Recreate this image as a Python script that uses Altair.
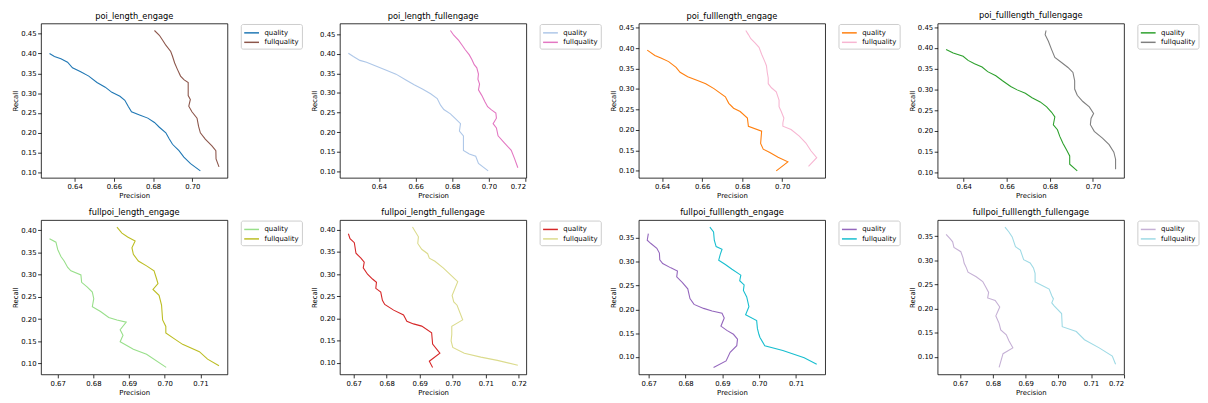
import altair as alt
import pandas as pd

FONT = "DejaVu Sans"
SERIES = ["quality", "fullquality"]

titles = [
    "poi_length_engage", "poi_length_fullengage", "poi_fulllength_engage", "poi_fulllength_fullengage",
    "fullpoi_length_engage", "fullpoi_length_fullengage", "fullpoi_fulllength_engage", "fullpoi_fulllength_fullengage",
]

colors = [
    ["#1f77b4", "#8c564b"], ["#aec7e8", "#e377c2"], ["#ff7f0e", "#f7b6d2"], ["#2ca02c", "#7f7f7f"],
    ["#98df8a", "#bcbd22"], ["#d62728", "#dbdb8d"], ["#9467bd", "#17becf"], ["#c5b0d5", "#9edae5"],
]

x_ticks_top = [0.64, 0.66, 0.68, 0.70]
x_ticks_top_wide = [0.64, 0.66, 0.68, 0.70, 0.72]
x_ticks_bottom = [0.67, 0.68, 0.69, 0.70, 0.71]
x_ticks_bottom_wide = [0.67, 0.68, 0.69, 0.70, 0.71, 0.72]
y_ticks_045 = [0.10, 0.15, 0.20, 0.25, 0.30, 0.35, 0.40, 0.45]
y_ticks_040 = [0.10, 0.15, 0.20, 0.25, 0.30, 0.35, 0.40]
y_ticks_035 = [0.10, 0.15, 0.20, 0.25, 0.30, 0.35]

# ---- panel 1: poi_length_engage
p1_q_prec = [0.6272, 0.6297, 0.6330, 0.6364, 0.6389, 0.6431, 0.6472, 0.6514, 0.6556, 0.6590, 0.6631, 0.6656, 0.6673,
             0.6690, 0.6731, 0.6773, 0.6807, 0.6832, 0.6865, 0.6882, 0.6899, 0.6932, 0.6957, 0.6991, 0.7041]
p1_q_rec = [0.400, 0.3926, 0.387, 0.378, 0.364, 0.354, 0.343, 0.327, 0.315, 0.302, 0.292, 0.282, 0.267,
            0.253, 0.245, 0.237, 0.226, 0.214, 0.200, 0.185, 0.171, 0.155, 0.1385, 0.122, 0.104]
p1_f_prec = [0.6807, 0.6832, 0.6848, 0.6865, 0.6890, 0.6899, 0.6910, 0.6924, 0.6940, 0.6957, 0.6979, 0.6979, 0.6990,
             0.6982, 0.6998, 0.7024, 0.7032, 0.7041, 0.7066, 0.7100, 0.7120, 0.7121, 0.7136]
p1_f_rec = [0.458, 0.446, 0.434, 0.421, 0.405, 0.393, 0.376, 0.360, 0.343, 0.334, 0.327, 0.294, 0.284,
            0.267, 0.253, 0.237, 0.216, 0.200, 0.184, 0.167, 0.155, 0.134, 0.114]

# ---- panel 2: poi_length_fullengage
p2_q_prec = [0.6233, 0.6260, 0.6296, 0.6332, 0.6386, 0.6440, 0.6493, 0.6547, 0.6592, 0.6637, 0.6682, 0.6718, 0.6736,
             0.6754, 0.6790, 0.6817, 0.6845, 0.6839, 0.6861, 0.6861, 0.6861, 0.6893, 0.6928, 0.6943, 0.6996]
p2_q_rec = [0.4013, 0.393, 0.383, 0.378, 0.368, 0.358, 0.348, 0.333, 0.321, 0.310, 0.298, 0.286, 0.269,
            0.258, 0.247, 0.235, 0.222, 0.203, 0.191, 0.174, 0.154, 0.145, 0.139, 0.121, 0.102]
p2_f_prec = [0.6790, 0.6808, 0.6835, 0.6853, 0.6871, 0.6893, 0.6907, 0.6920, 0.6934, 0.6943, 0.6940, 0.6949, 0.6943,
             0.6961, 0.6979, 0.6993, 0.7014, 0.7038, 0.7041, 0.7023, 0.7041, 0.7050, 0.7083, 0.7122, 0.7140, 0.7158]
p2_f_rec = [0.459, 0.447, 0.434, 0.422, 0.410, 0.397, 0.385, 0.372, 0.364, 0.348, 0.335, 0.323, 0.308,
            0.294, 0.277, 0.265, 0.257, 0.249, 0.236, 0.222, 0.211, 0.191, 0.174, 0.154, 0.133, 0.110]

# ---- panel 3: poi_fulllength_engage
p3_q_prec = [0.6326, 0.6364, 0.6397, 0.6433, 0.6470, 0.6490, 0.6528, 0.6577, 0.6618, 0.6659, 0.6716, 0.6733, 0.6757,
             0.6790, 0.6826, 0.6831, 0.6897, 0.6892, 0.6905, 0.6938, 0.6979, 0.7028, 0.6970]
p3_q_rec = [0.395, 0.382, 0.375, 0.367, 0.353, 0.341, 0.330, 0.321, 0.313, 0.301, 0.281, 0.265, 0.253,
            0.245, 0.229, 0.209, 0.197, 0.167, 0.153, 0.145, 0.133, 0.122, 0.100]
p3_f_prec = [0.6818, 0.6831, 0.6843, 0.6864, 0.6884, 0.6897, 0.6913, 0.6921, 0.6925, 0.6930, 0.6930, 0.6946, 0.6970,
             0.6984, 0.6984, 0.6995, 0.7008, 0.7003, 0.7003, 0.7044, 0.7085, 0.7118, 0.7143, 0.7172, 0.7131]
p3_f_rec = [0.443, 0.433, 0.423, 0.413, 0.402, 0.385, 0.367, 0.357, 0.341, 0.327, 0.313, 0.303, 0.293,
            0.273, 0.257, 0.245, 0.229, 0.217, 0.209, 0.201, 0.185, 0.168, 0.149, 0.132, 0.111]

# ---- panel 4: poi_fulllength_fullengage
p4_q_prec = [0.6318, 0.6351, 0.6397, 0.6420, 0.6450, 0.6485, 0.6511, 0.6549, 0.6580, 0.6618, 0.6648, 0.6686, 0.6717,
             0.6755, 0.6785, 0.6808, 0.6823, 0.6816, 0.6835, 0.6846, 0.6861, 0.6877, 0.6892, 0.6892, 0.6927]
p4_q_rec = [0.396, 0.388, 0.380, 0.370, 0.362, 0.354, 0.343, 0.333, 0.321, 0.307, 0.299, 0.291, 0.280,
            0.270, 0.258, 0.245, 0.234, 0.215, 0.203, 0.187, 0.170, 0.155, 0.140, 0.120, 0.104]
p4_f_prec = [0.6782, 0.6778, 0.6793, 0.6808, 0.6823, 0.6854, 0.6884, 0.6907, 0.6915, 0.6915, 0.6927, 0.6953, 0.6983,
             0.7003, 0.6991, 0.6988, 0.7006, 0.7044, 0.7075, 0.7097, 0.7105, 0.7105]
p4_f_rec = [0.442, 0.432, 0.416, 0.396, 0.377, 0.365, 0.353, 0.341, 0.321, 0.301, 0.286, 0.271, 0.258,
            0.242, 0.230, 0.215, 0.199, 0.183, 0.167, 0.149, 0.132, 0.108]

# ---- panel 5: fullpoi_length_engage
p5_q_prec = [0.6677, 0.6695, 0.6700, 0.6709, 0.6718, 0.6728, 0.6737, 0.6765, 0.6767, 0.6783, 0.6797, 0.6801, 0.6797,
             0.6820, 0.6843, 0.6866, 0.6892, 0.6875, 0.6883, 0.6875, 0.6912, 0.6949, 0.7004]
p5_q_rec = [0.381, 0.3735, 0.357, 0.341, 0.331, 0.3166, 0.309, 0.2996, 0.283, 0.272, 0.261, 0.246, 0.228,
            0.217, 0.2035, 0.198, 0.193, 0.176, 0.1636, 0.149, 0.132, 0.1207, 0.091]
p5_f_prec = [0.6866, 0.6880, 0.6896, 0.6917, 0.6908, 0.6912, 0.6926, 0.6949, 0.6970, 0.6977, 0.6981, 0.6967, 0.6984,
             0.6991, 0.6994, 0.7003, 0.7003, 0.7023, 0.7050, 0.7097, 0.7120, 0.7152]
p5_f_rec = [0.4075, 0.394, 0.385, 0.376, 0.361, 0.346, 0.331, 0.320, 0.309, 0.291, 0.280, 0.267, 0.2537,
            0.2316, 0.198, 0.1835, 0.1687, 0.1576, 0.143, 0.1266, 0.1096, 0.0948]

# ---- panel 6: fullpoi_length_fullengage
p6_q_prec = [0.6684, 0.6689, 0.6702, 0.6707, 0.6722, 0.6732, 0.6729, 0.6742, 0.6757, 0.6769, 0.6767, 0.6782, 0.6787,
             0.6794, 0.6821, 0.6851, 0.6861, 0.6881, 0.6906, 0.6936, 0.6939, 0.6961, 0.6929, 0.6939]
p6_q_rec = [0.391, 0.380, 0.3707, 0.347, 0.336, 0.327, 0.314, 0.2998, 0.289, 0.2815, 0.268, 0.2595, 0.241,
            0.2317, 0.219, 0.208, 0.1937, 0.188, 0.183, 0.168, 0.1424, 0.122, 0.104, 0.090]
p6_f_prec = [0.6878, 0.6896, 0.6894, 0.6906, 0.6924, 0.6929, 0.6946, 0.6971, 0.7015, 0.6998, 0.7003, 0.7013, 0.7030,
             0.6997, 0.6997, 0.6995, 0.7000, 0.7035, 0.7085, 0.7135, 0.7197]
p6_f_rec = [0.4059, 0.384, 0.369, 0.356, 0.346, 0.336, 0.329, 0.314, 0.283, 0.252, 0.2376, 0.230, 0.197,
            0.1827, 0.1644, 0.1498, 0.1351, 0.122, 0.1132, 0.1059, 0.0949]

# ---- panel 7: fullpoi_fulllength_engage
p7_q_prec = [0.6699, 0.6696, 0.6706, 0.6722, 0.6729, 0.6730, 0.6738, 0.6760, 0.6778, 0.6776, 0.6791, 0.6806, 0.6812,
             0.6823, 0.6849, 0.6872, 0.6899, 0.6905, 0.6896, 0.6912, 0.6930, 0.6941, 0.6939, 0.6921, 0.6910, 0.6876]
p7_q_rec = [0.3589, 0.345, 0.338, 0.328, 0.318, 0.304, 0.296, 0.287, 0.2805, 0.268, 0.2567, 0.243, 0.2226,
            0.2104, 0.202, 0.1967, 0.192, 0.1817, 0.1647, 0.1559, 0.1477, 0.1375, 0.1238, 0.110, 0.0918, 0.0782]
p7_f_prec = [0.6866, 0.6876, 0.6878, 0.6883, 0.6899, 0.6894, 0.6890, 0.6908, 0.6926, 0.6950, 0.6947, 0.6959, 0.6957,
             0.6966, 0.6972, 0.6963, 0.6993, 0.6995, 0.6999, 0.7002, 0.7015, 0.7064, 0.7122, 0.7156]
p7_f_rec = [0.3725, 0.3623, 0.345, 0.3316, 0.326, 0.3146, 0.303, 0.294, 0.284, 0.2717, 0.260, 0.2512, 0.2397,
            0.226, 0.2056, 0.1886, 0.1763, 0.160, 0.1477, 0.141, 0.1238, 0.1136, 0.0986, 0.085]

# ---- panel 8: fullpoi_fulllength_fullengage
p8_q_prec = [0.6657, 0.6669, 0.6677, 0.6681, 0.6702, 0.6709, 0.6712, 0.6719, 0.6724, 0.6749, 0.6769, 0.6779, 0.6787,
             0.6784, 0.6807, 0.6821, 0.6809, 0.6819, 0.6824, 0.6841, 0.6849, 0.6861, 0.6831, 0.6819]
p8_q_rec = [0.354, 0.345, 0.3385, 0.327, 0.318, 0.3047, 0.2946, 0.2845, 0.2757, 0.2662, 0.2561, 0.2439, 0.2338,
            0.2223, 0.2169, 0.2034, 0.1851, 0.1696, 0.1561, 0.1459, 0.1338, 0.1189, 0.1068, 0.0784]
p8_f_prec = [0.6837, 0.6849, 0.6859, 0.6869, 0.6884, 0.6889, 0.6894, 0.6914, 0.6924, 0.6929, 0.6929, 0.6949, 0.6972,
             0.6980, 0.6985, 0.6980, 0.6988, 0.7010, 0.7012, 0.7055, 0.7080, 0.7125, 0.7165, 0.7175]
p8_f_rec = [0.369, 0.3588, 0.3486, 0.3284, 0.3216, 0.3115, 0.3014, 0.2946, 0.2845, 0.273, 0.2554, 0.2486, 0.2405,
            0.227, 0.2203, 0.2122, 0.2054, 0.1899, 0.1628, 0.1527, 0.1358, 0.1189, 0.102, 0.0851]

panels = [
    (p1_q_prec, p1_q_rec, p1_f_prec, p1_f_rec, x_ticks_top, y_ticks_045),
    (p2_q_prec, p2_q_rec, p2_f_prec, p2_f_rec, x_ticks_top_wide, y_ticks_045),
    (p3_q_prec, p3_q_rec, p3_f_prec, p3_f_rec, x_ticks_top, y_ticks_045),
    (p4_q_prec, p4_q_rec, p4_f_prec, p4_f_rec, x_ticks_top, y_ticks_045),
    (p5_q_prec, p5_q_rec, p5_f_prec, p5_f_rec, x_ticks_bottom, y_ticks_040),
    (p6_q_prec, p6_q_rec, p6_f_prec, p6_f_rec, x_ticks_bottom_wide, y_ticks_040),
    (p7_q_prec, p7_q_rec, p7_f_prec, p7_f_rec, x_ticks_bottom, y_ticks_035),
    (p8_q_prec, p8_q_rec, p8_f_prec, p8_f_rec, x_ticks_bottom_wide, y_ticks_035),
]

W, H = 189, 156.5


def padded(vals):
    lo, hi = min(vals), max(vals)
    m = 0.05 * (hi - lo)
    return [lo - m, hi + m]


def make_panel(title, cols, qx, qy, fx, fy, xt, yt):
    df = pd.DataFrame({
        "Precision": qx + fx,
        "Recall": qy + fy,
        "series": ["quality"] * len(qx) + ["fullquality"] * len(fx),
        "idx": list(range(len(qx))) + list(range(len(fx))),
    })
    return alt.Chart(df).mark_line(strokeWidth=1.1).encode(
        x=alt.X("Precision:Q",
                scale=alt.Scale(domain=padded(qx + fx), nice=False, zero=False),
                axis=alt.Axis(values=xt, format=".2f", title="Precision")),
        y=alt.Y("Recall:Q",
                scale=alt.Scale(domain=padded(qy + fy), nice=False, zero=False),
                axis=alt.Axis(values=yt, format=".2f", title="Recall")),
        color=alt.Color("series:N",
                        scale=alt.Scale(domain=SERIES, range=cols),
                        title=None,
                        legend=alt.Legend(orient="none", legendX=W + 13.5, legendY=0.5,
                                          symbolType="M-1.5,0H1.5", symbolSize=100, symbolStrokeWidth=1.5,
                                          symbolOffset=2, symbolFillColor="transparent",
                                          labelFontSize=7, labelFont=FONT, labelColor="black",
                                          padding=3, strokeColor="#cccccc", fillColor="white",
                                          cornerRadius=2, rowPadding=0.6, labelOffset=7)),
        order="idx:Q",
    ).properties(width=W, height=H, title=title)


charts = [make_panel(titles[i], colors[i], *panels[i]) for i in range(8)]

chart = alt.concat(*charts, columns=4, spacing={"row": 42.3, "column": 114}, bounds="flush").resolve_scale(
    color="independent", x="independent", y="independent"
).properties(
    padding={"left": 3.5, "top": 0, "right": 0, "bottom": 0}
).configure_axis(
    labelFont=FONT, titleFont=FONT, labelFontSize=7, titleFontSize=7, titleFontWeight="normal",
    labelColor="black", titleColor="black", tickColor="black", tickSize=3.5, tickWidth=0.8,
    domain=False, grid=False, labelPadding=1.5, titlePadding=2,
).configure_view(
    stroke="black", strokeWidth=0.8
).configure_title(
    font=FONT, fontSize=8.4, fontWeight="normal", color="black", offset=3.5
)

chart.save("out.html", embed_options={"renderer": "svg", "actions": False})
